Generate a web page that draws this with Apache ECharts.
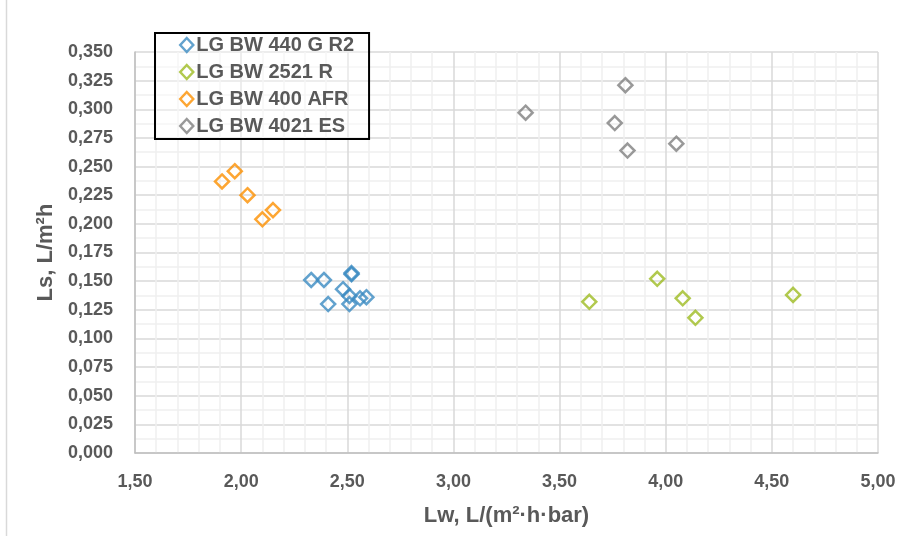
<!DOCTYPE html>
<html>
<head>
<meta charset="utf-8">
<script src="https://cdn.jsdelivr.net/npm/echarts@6/dist/echarts.min.js"></script>
<style>
    html, body { margin: 0; padding: 0; background: #fff; }
    #chart { width: 901px; height: 536px; }
</style>
</head>
<body>
<div id="chart"></div>
<script>
// series names
var seriesNames = ['LG BW 440 G R2', 'LG BW 2521 R', 'LG BW 400 AFR', 'LG BW 4021 ES'];

// LG BW 440 G R2
var r2Lw = [2.33, 2.39, 2.52, 2.52, 2.48, 2.41, 2.51, 2.51, 2.56, 2.59];
var r2Ls = [0.151, 0.151, 0.157, 0.156, 0.143, 0.130, 0.130, 0.137, 0.135, 0.136];

// LG BW 2521 R
var rLw = [3.64, 3.96, 4.08, 4.14, 4.60];
var rLs = [0.132, 0.152, 0.135, 0.118, 0.138];

// LG BW 400 AFR
var afrLw = [1.91, 1.97, 2.03, 2.10, 2.15];
var afrLs = [0.237, 0.246, 0.225, 0.204, 0.212];

// LG BW 4021 ES
var esLw = [3.81, 3.34, 3.76, 3.82, 4.05];
var esLs = [0.321, 0.297, 0.288, 0.264, 0.270];

var colors = ['#3b8bc2', '#9dbb22', '#fd9000', '#808080'];

function pairs(xs, ys) {
    var out = [];
    for (var i = 0; i < xs.length; i++) {
        out.push([xs[i], ys[i]]);
    }
    return out;
}

var seriesData = [pairs(r2Lw, r2Ls), pairs(rLw, rLs), pairs(afrLw, afrLs), pairs(esLw, esLs)];

var chart = echarts.init(document.getElementById('chart'));

var textColor = '#595959';

chart.setOption({
    animation: false,
    backgroundColor: '#fff',
    textStyle: { fontFamily: 'Liberation Sans, Arial, sans-serif' },
    graphic: [{
        type: 'rect',
        shape: { x: 6.5, y: -10, width: 2000, height: 2000 },
        style: { fill: 'none', stroke: '#d9d9d9', lineWidth: 1.5 },
        silent: true
    }],
    grid: {
        left: 135,
        right: 23,
        top: 52,
        bottom: 83
    },
    legend: {
        orient: 'vertical',
        left: 155,
        top: 33,
        padding: [2, 15, 3, 24],
        itemWidth: 13,
        itemHeight: 14,
        itemGap: 7,
        borderColor: '#000',
        borderWidth: 2,
        backgroundColor: 'rgba(255,255,255,0.4)',
        itemStyle: { borderWidth: 2.5 },
        textStyle: { color: textColor, fontSize: 20, fontWeight: 'bold', padding: [0, 0, 0, -2] },
        data: seriesNames
    },
    xAxis: {
        type: 'value',
        min: 1.5,
        max: 5.0,
        interval: 0.5,
        name: 'Lw, L/(m²·h·bar)',
        nameLocation: 'middle',
        nameGap: 52,
        nameTextStyle: { color: textColor, fontSize: 22, fontWeight: 'bold' },
        axisLine: { show: true, lineStyle: { color: '#bfbfbf', width: 1.5 } },
        axisTick: { show: false },
        axisLabel: {
            color: textColor,
            fontSize: 18,
            fontWeight: 'bold',
            margin: 20,
            formatter: function (v) { return v.toFixed(2).replace('.', ','); }
        },
        splitLine: { show: true, lineStyle: { color: '#d9d9d9', width: 1.5 } },
        minorTick: { show: false, splitNumber: 5 },
        minorSplitLine: { show: true, lineStyle: { color: '#efefef', width: 1.5 } }
    },
    yAxis: {
        type: 'value',
        min: 0,
        max: 0.35,
        interval: 0.025,
        name: 'Ls, L/m²h',
        nameLocation: 'middle',
        nameGap: 38,
        nameRotate: 90,
        nameTextStyle: { color: textColor, fontSize: 22, fontWeight: 'bold' },
        axisLine: { show: true, lineStyle: { color: '#bfbfbf', width: 1.5 } },
        axisTick: { show: false },
        axisLabel: {
            color: textColor,
            fontSize: 18,
            fontWeight: 'bold',
            margin: 22,
            formatter: function (v) { return v.toFixed(3).replace('.', ','); }
        },
        splitLine: { show: true, lineStyle: { color: '#d9d9d9', width: 1.5 } },
        minorTick: { show: false, splitNumber: 2 },
        minorSplitLine: { show: true, lineStyle: { color: '#efefef', width: 1.5 } }
    },
    series: seriesNames.map(function (name, i) {
        return {
            name: name,
            type: 'scatter',
            symbol: 'diamond',
            symbolSize: 14,
            itemStyle: {
                color: 'rgba(255,255,255,0)',
                borderColor: colors[i],
                borderWidth: 2.5
            },
            data: seriesData[i]
        };
    })
});
</script>
</body>
</html>
